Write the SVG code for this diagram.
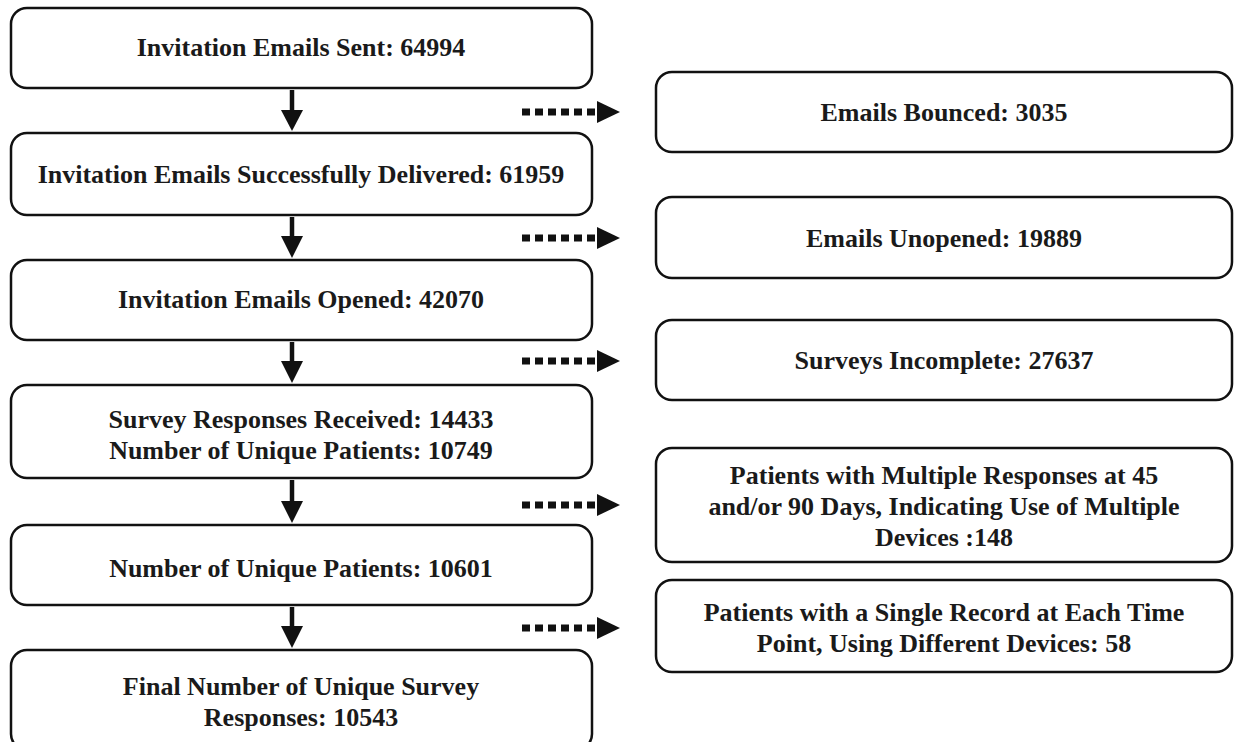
<svg xmlns="http://www.w3.org/2000/svg" width="1234" height="742" viewBox="0 0 1234 742">
<defs>
<style>
.box{fill:#fff;stroke:#111;stroke-width:2.5}
.t{font-family:"Liberation Serif","Times New Roman",serif;font-weight:bold;font-size:26px;fill:#1a1a1a;text-anchor:middle}
.shaft{stroke:#111;stroke-width:4.5;fill:none}
.dot{stroke:#111;stroke-width:7;stroke-dasharray:8 5;fill:none}
.head{fill:#111}
</style>
</defs>
<rect width="1234" height="742" fill="#fff"/>
<g id="n1"><rect class="box" x="11" y="8" width="581" height="80" rx="16"/><text class="t" x="301" y="56">Invitation Emails Sent: 64994</text></g>
<g id="n2"><rect class="box" x="11" y="133" width="581" height="82" rx="16"/><text class="t" x="301" y="183">Invitation Emails Successfully Delivered: 61959</text></g>
<g id="n3"><rect class="box" x="11" y="260" width="581" height="80" rx="16"/><text class="t" x="301" y="308">Invitation Emails Opened: 42070</text></g>
<g id="n4"><rect class="box" x="11" y="385" width="581" height="93" rx="16"/><text class="t" x="301" y="428">Survey Responses Received: 14433</text><text class="t" x="301" y="459">Number of Unique Patients: 10749</text></g>
<g id="n5"><rect class="box" x="11" y="525" width="581" height="80" rx="16"/><text class="t" x="301" y="577">Number of Unique Patients: 10601</text></g>
<g id="n6"><rect class="box" x="11" y="650" width="581" height="100" rx="16"/><text class="t" x="301" y="695">Final Number of Unique Survey</text><text class="t" x="301" y="726">Responses: 10543</text></g>
<g id="r1"><rect class="box" x="656" y="72" width="576" height="80" rx="16"/><text class="t" x="944" y="121">Emails Bounced: 3035</text></g>
<g id="r2"><rect class="box" x="656" y="197" width="576" height="81" rx="16"/><text class="t" x="944" y="247">Emails Unopened: 19889</text></g>
<g id="r3"><rect class="box" x="656" y="320" width="576" height="80" rx="16"/><text class="t" x="944" y="369">Surveys Incomplete: 27637</text></g>
<g id="r4"><rect class="box" x="656" y="448" width="576" height="114" rx="16"/><text class="t" x="944" y="484">Patients with Multiple Responses at 45</text><text class="t" x="944" y="515">and/or 90 Days, Indicating Use of Multiple</text><text class="t" x="944" y="546">Devices :148</text></g>
<g id="r5"><rect class="box" x="656" y="580" width="576" height="92" rx="16"/><text class="t" x="944" y="621">Patients with a Single Record at Each Time</text><text class="t" x="944" y="652">Point, Using Different Devices: 58</text></g>
<g id="connectors">
<line class="shaft" x1="292" y1="90" x2="292" y2="112"/><polygon class="head" points="281,110 303,110 292,131"/>
<line class="shaft" x1="292" y1="217" x2="292" y2="238"/><polygon class="head" points="281,236 303,236 292,258"/>
<line class="shaft" x1="292" y1="342" x2="292" y2="363"/><polygon class="head" points="281,361 303,361 292,383"/>
<line class="shaft" x1="292" y1="480" x2="292" y2="503"/><polygon class="head" points="281,501 303,501 292,523"/>
<line class="shaft" x1="292" y1="607" x2="292" y2="628"/><polygon class="head" points="281,626 303,626 292,648"/>
<line class="dot" x1="522" y1="112" x2="597" y2="112"/><polygon class="head" points="597,101 597,123 620,112"/>
<line class="dot" x1="522" y1="238" x2="597" y2="238"/><polygon class="head" points="597,227 597,249 620,238"/>
<line class="dot" x1="522" y1="361" x2="597" y2="361"/><polygon class="head" points="597,350 597,372 620,361"/>
<line class="dot" x1="522" y1="505" x2="597" y2="505"/><polygon class="head" points="597,494 597,516 620,505"/>
<line class="dot" x1="522" y1="628" x2="597" y2="628"/><polygon class="head" points="597,617 597,639 620,628"/>
</g>
</svg>
